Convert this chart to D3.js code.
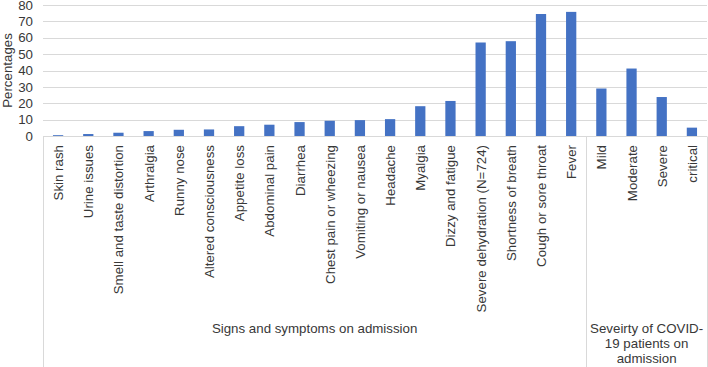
<!DOCTYPE html>
<html>
<head>
<meta charset="utf-8">
<script src="https://cdn.jsdelivr.net/npm/d3@7"></script>
<style>
  html, body { margin: 0; padding: 0; background: #fff; }
  svg { display: block; font-family: "Liberation Sans", Arial, sans-serif; }
  .tick-label, .group-label, .y-title { fill: #383838; font-size: 13.3px; }
  .grid line { stroke: #d9d9d9; stroke-width: 1; }
  .frame { stroke: #d9d9d9; stroke-width: 1; }
</style>
</head>
<body>
<div id="chart"></div>
<script>
// Percent of patients per symptom / severity level.
const symptoms = [
  "Skin rash", "Urine issues", "Smell and taste distortion", "Arthralgia",
  "Runny nose", "Altered consciousness", "Appetite loss", "Abdominal pain",
  "Diarrhea", "Chest pain or wheezing", "Vomiting or nausea", "Headache",
  "Myalgia", "Dizzy and fatigue", "Severe dehydration (N=724)",
  "Shortness of breath", "Cough or sore throat", "Fever"
];
const symptomValues = [0.5, 1.2, 2, 3, 3.8, 4, 6, 6.9, 8.5, 9.3, 9.7, 10.3, 18.2, 21.4, 57.1, 57.9, 74.5, 75.8];

const severity = ["Mild", "Moderate", "Severe", "critical"];
const severityValues = [29, 41.2, 23.8, 5.1];

const groupLabels = [
  ["Signs and symptoms on admission"],
  ["Seveirty of COVID-", "19 patients on", "admission"]
];
const yTicks = [0, 10, 20, 30, 40, 50, 60, 70, 80];

const width = 708, height = 367;
const m = { top: 5, right: 1, bottom: 231, left: 43 };
const iW = width - m.left - m.right;
const iH = height - m.top - m.bottom;

const cats = symptoms.concat(severity);
const vals = symptomValues.concat(severityValues);
const rows = cats.map((c, i) => ({ c, v: vals[i] }));

const x = d3.scaleBand(cats, [0, iW]).paddingInner(0.66).paddingOuter(0.33);
const y = d3.scaleLinear([0, 80], [iH, 0]);

const svg = d3.select("#chart").append("svg")
  .attr("width", width).attr("height", height);
const g = svg.append("g").attr("transform", `translate(${m.left},${m.top})`);

g.append("g").attr("class", "grid")
  .selectAll("line").data(yTicks.slice(1)).join("line")
  .attr("x1", 0).attr("x2", iW)
  .attr("y1", (d) => Math.round(y(d)) + 0.5).attr("y2", (d) => Math.round(y(d)) + 0.5);

g.selectAll("rect.bar").data(rows).join("rect")
  .attr("class", "bar")
  .attr("x", (d) => x(d.c)).attr("width", x.bandwidth())
  .attr("y", (d) => y(d.v)).attr("height", (d) => iH - y(d.v))
  .attr("fill", "#4472c4");

// Axis line plus the group dividers that run to the bottom edge.
const base = Math.round(iH) + 0.5;
g.append("line").attr("class", "frame").attr("x1", 0).attr("x2", iW).attr("y1", base).attr("y2", base);
const step = x.step();
const splitX = symptoms.length * step;
[0, splitX, iW].forEach((px) => {
  const xx = Math.round(px) + 0.5;
  g.append("line").attr("class", "frame")
    .attr("x1", xx).attr("x2", xx).attr("y1", base).attr("y2", height - m.top);
});

// Y ticks
g.selectAll("text.ytick").data(yTicks).join("text")
  .attr("class", "tick-label")
  .attr("x", -10).attr("y", (d) => y(d)).attr("dy", "0.35em")
  .attr("text-anchor", "end").text((d) => d);

g.append("text").attr("class", "y-title").attr("text-anchor", "middle")
  .attr("transform", `translate(${-31},${y(40)}) rotate(-90)`).text("Percentages");

// Rotated category labels
g.selectAll("text.xcat").data(cats).join("text")
  .attr("class", "tick-label")
  .attr("text-anchor", "end")
  .attr("transform", (d) => `translate(${x(d) + x.bandwidth() / 2 + 5},${iH + 9}) rotate(-90)`)
  .text((d) => d);

// Group labels
const groupSpans = [[0, splitX], [splitX, iW]];
groupLabels.forEach((lines, gi) => {
  const cx = (groupSpans[gi][0] + groupSpans[gi][1]) / 2;
  const t = g.append("text").attr("class", "group-label").attr("text-anchor", "middle")
    .attr("x", cx).attr("y", 328 - m.top);
  lines.forEach((ln, li) => {
    t.append("tspan").attr("x", cx).attr("dy", li === 0 ? "0.35em" : 15).text(ln);
  });
});
</script>
</body>
</html>
